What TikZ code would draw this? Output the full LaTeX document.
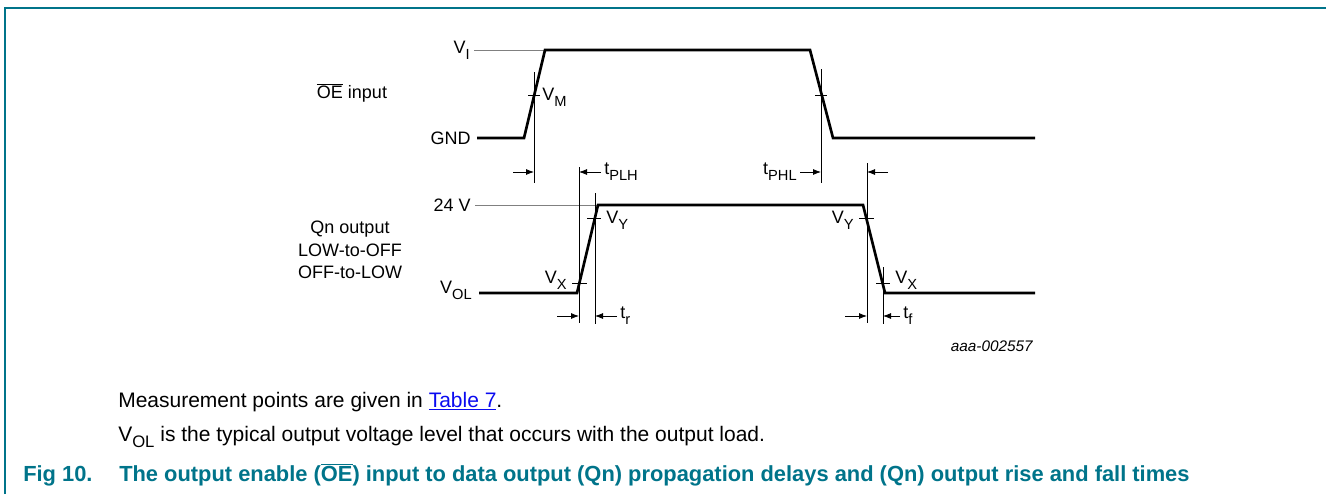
\documentclass[tikz,border=0pt]{standalone}
\usepackage{fontspec}
\setmainfont{Liberation Sans}
\usetikzlibrary{calc,arrows.meta}
\definecolor{figteal}{RGB}{0,116,138}
\definecolor{linkblue}{RGB}{10,10,240}
\newcommand{\idx}[1]{\raisebox{-0.32em}{\fontsize{11}{11}\selectfont #1}}
\newcommand{\bodyidx}[1]{\raisebox{-0.32em}{\fontsize{12.5}{12.5}\selectfont #1}}

\begin{document}
\begin{tikzpicture}[x=0.75pt,y=-0.75pt,
  wave/.style={line width=2pt},
  guide/.style={gray,line width=0.7pt},
  meas/.style={line width=0.6pt},
  dim/.style={line width=0.6pt,-{Latex[length=6pt,width=4.5pt]}},
  lbl/.style={font=\fontsize{13.5}{17}\selectfont,inner sep=0pt},
  body/.style={font=\fontsize{15.75}{19}\selectfont,inner sep=0pt,anchor=base west}]
\useasboundingbox (0,0) rectangle (1326,494);
\draw[figteal,line width=1.5pt] (5,494) -- (5,8) -- (1326,8);

% OE input
\coordinate (gnd) at (477,138);
\coordinate (rise) at (524,138);
\coordinate (hi) at (545,50);
\coordinate (fall) at (810,50);
\coordinate (lo) at (833,138);
\coordinate (gndend) at (1035,138);
\draw[guide] (474,50) -- (hi);
\draw[wave] (gnd) -- (rise) -- (hi) -- (fall) -- (lo) -- (gndend);
\node[lbl,anchor=east] (vi) at (470,50) {V\idx{I}};
\node[lbl,anchor=east] (gndlbl) at (471,138) {GND};
\node[lbl] (oein) at (352,93) {$\overline{\mbox{OE}}$ input};
\draw[meas] (534,72) -- (534,183);
\draw[meas] (528,95) -- (540,95);
\node[lbl,anchor=west] (vm) at (542,97) {V\idx{M}};
\draw[meas] (821,69) -- (821,183);
\draw[meas] (815,95) -- (827,95);

% Qn output
\coordinate (vol) at (479,293);
\coordinate (orise) at (577,293);
\coordinate (ohi) at (598,205);
\coordinate (ofall) at (863,205);
\coordinate (olo) at (885,293);
\coordinate (volend) at (1035,293);
\draw[guide] (475,205) -- (ohi);
\draw[wave] (vol) -- (orise) -- (ohi) -- (ofall) -- (olo) -- (volend);
\node[lbl,anchor=east] (vdd) at (471,205) {24 V};
\node[lbl,anchor=east] (vollbl) at (472,290) {V\idx{OL}};
\node[lbl,align=center] (qn) at (350,250) {Qn output\\LOW-to-OFF\\OFF-to-LOW};
\draw[meas] (579,167) -- (579,323);
\draw[meas] (572,283) -- (587,283);
\node[lbl,anchor=east] (vx1) at (567,280) {V\idx{X}};
\draw[meas] (595,193) -- (595,324);
\draw[meas] (587,218) -- (601,218);
\node[lbl,anchor=west] (vy1) at (606,220) {V\idx{Y}};
\draw[meas] (867,163) -- (867,323);
\draw[meas] (859,218) -- (874,218);
\node[lbl,anchor=east] (vy2) at (854,220) {V\idx{Y}};
\draw[meas] (883,267) -- (883,324);
\draw[meas] (876,283) -- (890,283);
\node[lbl,anchor=west] (vx2) at (895,280) {V\idx{X}};

% delays and transition times
\draw[dim] (513,172) -- (534,172);
\draw[dim] (601,172) -- (579,172);
\node[lbl,anchor=west] (tplh) at (604,172) {t\idx{PLH}};
\draw[dim] (800,172) -- (821,172);
\node[lbl,anchor=east] (tphl) at (797,172) {t\idx{PHL}};
\draw[dim] (888,172) -- (867,172);
\draw[dim] (557,316) -- (579,316);
\draw[dim] (617,316) -- (595,316);
\node[lbl,anchor=west] (tr) at (620,316) {t\idx{r}};
\draw[dim] (845,316) -- (867,316);
\draw[dim] (900,316) -- (883,316);
\node[lbl,anchor=west] (tf) at (903,316) {t\idx{f}};
\node[inner sep=0pt,anchor=east,font=\fontsize{11.5}{14}\selectfont\itshape] (code) at (1033,346) {aaa-002557};

% notes and caption
\node[body] (note1) at (118,407) {Measurement points are given in \textcolor{linkblue}{\underline{Table 7}}.};
\node[body] (note2) at (118,441) {V\bodyidx{OL} is the typical output voltage level that occurs with the output load.};
\node[body,figteal,font=\fontsize{16.4}{19}\selectfont\bfseries] (fignum) at (23,481) {Fig 10.};
\node[body,figteal,font=\fontsize{16.4}{19}\selectfont\bfseries] (caption) at (119,481)
  {The output enable ($\overline{\mbox{OE}}$) input to data output (Qn) propagation delays and (Qn) output rise and fall times};
\end{tikzpicture}
\end{document}
